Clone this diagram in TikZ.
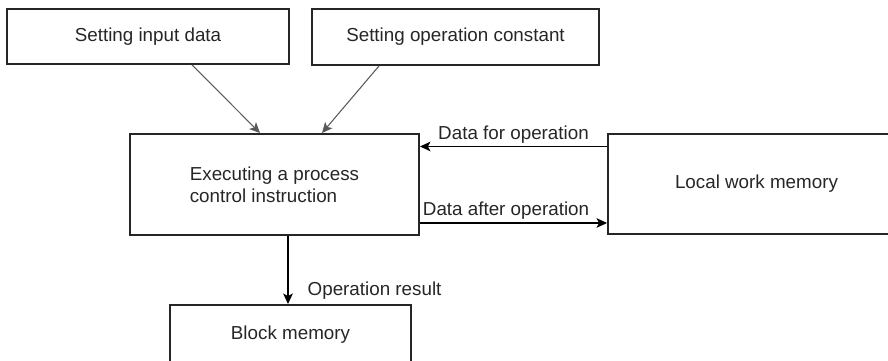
\documentclass[tikz,border=0pt]{standalone}
\usepackage{fontspec}
\setmainfont{Liberation Sans}
\usetikzlibrary{arrows.meta}

\begin{document}
\begin{tikzpicture}[
	box/.style={draw=black!85,line width=1.1pt,minimum width=#1,inner sep=0pt,text=black!85},
	flow/.style={-{Stealth[length=6pt,width=5.5pt,inset=1.5pt]},line width=0.6pt},
	feed/.style={flow,draw=black!65},
	lab/.style={text=black!85,inner sep=1.5pt},
	font=\fontsize{10.7}{12.6}\selectfont]
	% picture frame (the outer boxes are cut at its edges)
	\clip (0,0) rectangle (17.76,7.22);
	% boxes
	\node[box=5.64cm,minimum height=1.10cm] (input) at (2.96,6.49) {Setting input data};
	\node[box=5.74cm,minimum height=1.12cm] (const) at (9.11,6.48) {Setting operation constant};
	\node[box=5.78cm,minimum height=2.02cm,align=left] (exec) at (5.49,3.53) {Executing a process\\control instruction};
	\node[box=5.94cm,minimum height=2.00cm] (local) at (15.13,3.54) {Local work memory};
	\node[box=4.82cm,minimum height=1.20cm] (block) at (5.81,0.52) {Block memory};
	% inputs
	\draw[feed] ([xshift=0.88cm]input.south) -- ([xshift=-0.29cm]exec.north);
	\draw[feed] ([xshift=-1.53cm]const.south) -- ([xshift=0.95cm]exec.north);
	% local work memory
	\draw[flow] ([yshift=0.75cm]local.west) -- ([yshift=0.75cm]local.west -| exec.east)
		node[lab,midway,above] {Data for operation};
	\draw[flow] ([yshift=-0.77cm]exec.east) -- ([yshift=-0.77cm]exec.east -| local.west)
		node[lab,pos=0.46,above] {Data after operation};
	% result
	\draw[flow] ([xshift=0.27cm]exec.south) -- ([xshift=0.27cm]exec.south |- block.north)
		node[lab,pos=0.8,right=0.33cm] {Operation result};
\end{tikzpicture}
\end{document}
